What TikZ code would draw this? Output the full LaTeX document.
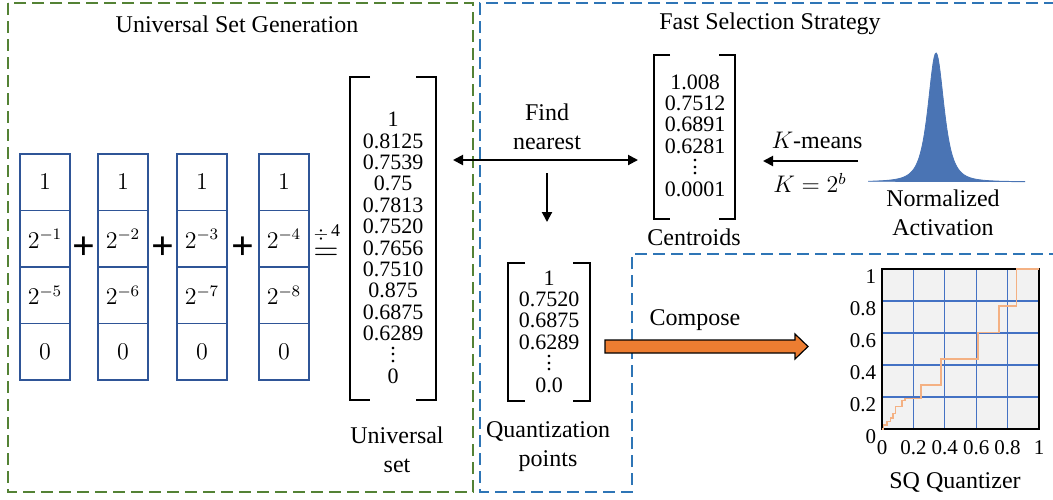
\documentclass[tikz,border=0pt]{standalone}
\usepackage{fontspec}
\setmainfont{Liberation Serif}
\usetikzlibrary{positioning,arrows.meta}

\definecolor{framegreen}{HTML}{548235}
\definecolor{frameblue}{HTML}{2E75B6}
\definecolor{cellblue}{HTML}{2F5597}
\definecolor{peakblue}{HTML}{4A74B4}
\definecolor{gridblue}{HTML}{4472C4}
\definecolor{plotbg}{HTML}{F2F2F2}
\definecolor{stairorange}{HTML}{F4B183}
\definecolor{composeorange}{HTML}{ED7D31}

\tikzset{
  lbl/.style={font=\fontsize{12}{14.5}\selectfont, align=center, inner sep=0pt},
  nums/.style={font=\fontsize{11}{10.7}\selectfont, align=center, inner sep=0pt},
  tick/.style={font=\fontsize{10.5}{12}\selectfont, inner sep=0pt},
  op/.style={font=\fontsize{20}{20}\selectfont\bfseries, inner sep=0pt},
  cell/.style={draw=cellblue, line width=0.75pt, minimum width=25pt, minimum height=28.25pt,
    inner sep=0pt, outer sep=0pt, font=\fontsize{12}{14}\selectfont},
  matbox/.style={inner sep=0pt, outer sep=0pt},
  bracket/.style={line width=0.8pt},
  tip/.tip={Triangle[length=5pt,width=5pt]},
  conn/.style={line width=1pt, -tip},
  frame/.style={dash pattern=on 6pt off 3pt, line width=1.2pt},
  stair/.style={stairorange, line width=0.8pt},
  gridline/.style={gridblue, line width=0.6pt},
  fatarrow/.style={draw=black, fill=composeorange, line width=0.6pt, line join=miter}
}

% square brackets on both sides of a matrix box
\newcommand\matbrackets[2]{%
  \draw[bracket] ([xshift=#2]#1.north west) -- (#1.north west) -- (#1.south west) -- ([xshift=#2]#1.south west);
  \draw[bracket] ([xshift=-#2]#1.north east) -- (#1.north east) -- (#1.south east) -- ([xshift=-#2]#1.south east);}

% small vertical dots
\newcommand\vdts{\vbox{\baselineskip=3.2pt\lineskiplimit=0pt\hbox{.}\hbox{.}\hbox{.}}}

\begin{document}
\begin{tikzpicture}[x=0.5pt, y=-0.5pt]
  \useasboundingbox (0,0) rectangle (1053,499);

  % Dashed frames
  \draw[frame, framegreen] (8,3) rectangle (473,492);
  \draw[frame, frameblue] (1056,3) -- (480,3) -- (480,492) -- (632,492) -- (632,254) -- (1056,254);

  % Titles
  \node[lbl] (title1) at (237,24) {Universal Set Generation};
  \node[lbl] (title2) at (770,24) {Fast Selection Strategy};

  % Columns of the four codebooks
  \foreach \col/\xc/\ea/\eb in {1/45/1/5, 2/123/2/6, 3/202/3/7, 4/284/4/8} {
    \node[cell] (c\col-1) at (\xc,182.25) {$1$};
    \node[cell, below=0pt of c\col-1] (c\col-2) {$2^{-\ea}$};
    \node[cell, below=0pt of c\col-2] (c\col-3) {$2^{-\eb}$};
    \node[cell, below=0pt of c\col-3] (c\col-4) {$0$};
  }

  % Plus signs, division and equals
  \foreach \px [count=\i] in {84,162.5,243} {
    \node[op] (plus\i) at (\px,248) {+};
  }
  \node[font=\fontsize{17}{17}\selectfont, inner sep=0pt] (eq) at (326,254) {$=$};
  \node[font=\fontsize{9}{10}\selectfont, inner sep=0pt] (div) at (327,233) {$\div$\,\raisebox{1.5pt}{4}};

  % Universal set
  \node[matbox, minimum width=43pt, minimum height=161.5pt] (uset) at (393,238.5) {};
  \matbrackets{uset}{10pt}
  \node[nums] (uvals) at (393,248) {1\\0.8125\\0.7539\\0.75\\0.7813\\0.7520\\0.7656\\0.7510\\0.875\\0.6875\\0.6289\\\vdts\\0};
  \node[lbl] (ulabel) at (397,450) {Universal\\set};

  % Centroids
  \node[matbox, minimum width=40.5pt, minimum height=82pt] (cent) at (694.5,137) {};
  \matbrackets{cent}{8pt}
  \node[nums] (cvals) at (695,135.5) {1.008\\0.7512\\0.6891\\0.6281\\\vdts\\0.0001};
  \node[lbl] (clabel) at (694,237) {Centroids};

  % Quantization points
  \node[matbox, minimum width=41pt, minimum height=69pt] (qmat) at (549,332) {};
  \matbrackets{qmat}{8.5pt}
  \node[nums] (qvals) at (549,331.5) {1\\0.7520\\0.6875\\0.6289\\\vdts\\0.0};
  \node[lbl] (qlabel) at (548,447) {Quantization\\points};

  % Find nearest
  \node[lbl] (find) at (547,127) {Find\\nearest};
  \coordinate (fnarrow) at ([yshift=-11.5pt]cent.west);
  \draw[line width=1pt, tip-tip, shorten <=8.5pt, shorten >=8pt] (uset.east |- fnarrow) -- (fnarrow);
  \draw[conn, shorten <=11.5pt, shorten >=20.5pt] (find.south) -- (find.south |- qmat.north);

  % Normalized activation
  \fill[peakblue, draw=peakblue, line width=0.4pt] plot[domain=868:1025, samples=160]
    (\x,{182-129*(0.9/(1+((\x-936)/14)^2)^2+0.1/(1+((\x-936)/14)^2))}) -- cycle;
  \node[lbl] (act) at (943,213) {Normalized\\Activation};

  % K-means
  \coordinate (kin) at (858,161);
  \draw[conn, shorten >=14pt] (kin) -- (cent.east |- kin);
  \node[lbl] (kmeans) at (817,140) {$K$-means};
  \node[lbl] (kbits) at (810,183) {$K=2^b$};

  % Compose
  \coordinate (cmpS) at (605,346.5);
  \coordinate (cmpE) at (808,346.5);
  \draw[fatarrow] (cmpS) ++(0,-6.5) -- ++(190,0) -- ++(0,-6) -- (cmpE) -- ++(-13,12.5)
    -- ++(0,-6) -- ++(-190,0) -- cycle;
  \node[lbl] (compose) at (695,320) {Compose};

  % SQ quantizer plot
  \begin{scope}[shift={(882,429)}, x=78.5pt, y=80pt]
    \fill[plotbg] (0,0) rectangle (1,1);
    \foreach \t in {0.2,0.4,0.6,0.8} {
      \draw[gridline] (\t,0) -- (\t,1);
      \draw[gridline] (0,\t) -- (1,\t);
    }
    \draw[line width=0.9pt] (0,0) rectangle (1,1);
    \draw[stair] plot coordinates {(0,0) (0.01,0) (0.01,0.025) (0.03,0.025) (0.03,0.046)
      (0.053,0.046) (0.053,0.067) (0.07,0.067) (0.07,0.098) (0.085,0.098) (0.085,0.14)
      (0.127,0.14) (0.127,0.177) (0.148,0.177) (0.148,0.19) (0.25,0.19) (0.25,0.275)
      (0.374,0.275) (0.374,0.4375) (0.613,0.4375) (0.613,0.604) (0.746,0.604)
      (0.746,0.769) (0.856,0.769) (0.856,1) (1,1)};
    \foreach \t/\txt [count=\i] in {0/0,0.2/0.2,0.4/0.4,0.6/0.6,0.8/0.8,1/1} {
      \node[tick, anchor=east] (yt\i) at (-0.035,\t-0.05) {\txt};
      \node[tick, anchor=north] (xt\i) at (\t,-0.07) {\txt};
    }
  \end{scope}
  \node[lbl] (sqlabel) at (955,482) {SQ Quantizer};
\end{tikzpicture}
\end{document}
